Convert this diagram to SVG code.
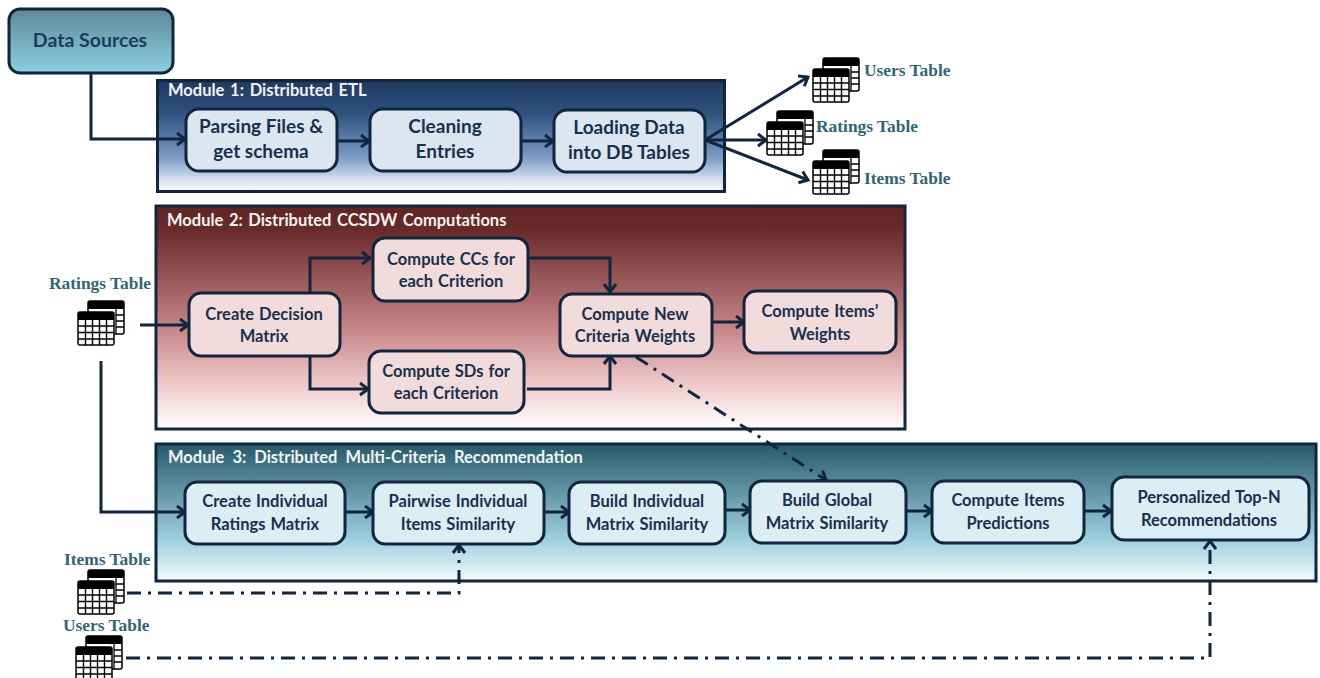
<svg xmlns="http://www.w3.org/2000/svg" width="1320" height="678" viewBox="0 0 1320 678">
<style>
text{font-family:Lato,"Liberation Sans",sans-serif;font-weight:700}
.b{fill:#dce6f1;stroke:#10253f;stroke-width:3}
.r{fill:#f2dcdb;stroke:#10253f;stroke-width:3}
.t{fill:#dbeef4;stroke:#10253f;stroke-width:3}
.m{stroke:#10253f;stroke-width:3}
.l{fill:#17304f;font-size:19px;text-anchor:middle}
.s{font-size:16.500px;word-spacing:1px}
.h{fill:#f4f4f4;font-size:16.500px}
.tl{font-family:"Liberation Serif",serif;fill:#2f6577;font-size:17.400px}
.c{fill:none;stroke:#10253f;stroke-width:3}
.d{stroke-dasharray:14 7 3 7}
</style>
<defs>
<linearGradient id="g0" x1="0" y1="0" x2="0" y2="1"><stop offset="0" stop-color="#5f8a95"/><stop offset="1" stop-color="#8bd0e0"/></linearGradient>
<linearGradient id="g1" x1="0" y1="0" x2="0" y2="1"><stop offset="0" stop-color="#1f3a5f"/><stop offset=".3" stop-color="#2f5280"/><stop offset=".7" stop-color="#7d9cc6"/><stop offset=".88" stop-color="#cfdcec"/><stop offset="1" stop-color="#fbfcfe"/></linearGradient>
<linearGradient id="g2" x1="0" y1="0" x2="0" y2="1"><stop offset="0" stop-color="#632523"/><stop offset=".1" stop-color="#682a28"/><stop offset=".56" stop-color="#c9888a"/><stop offset=".8" stop-color="#eecaca"/><stop offset="1" stop-color="#fff"/></linearGradient>
<linearGradient id="g3" x1="0" y1="0" x2="0" y2="1"><stop offset="0" stop-color="#265a6b"/><stop offset=".7" stop-color="#9fd0de"/><stop offset="1" stop-color="#f4fafc"/></linearGradient>
<marker id="a" markerUnits="userSpaceOnUse" markerWidth="14" markerHeight="16" refX="12" refY="8" orient="auto"><path d="M4 2L12 8L4 14" fill="none" stroke="#10253f" stroke-width="3"/></marker>
<g id="ic">
<rect x="10" y="-11" width="36" height="33" rx="2" fill="#fff" stroke="#000" stroke-width="1.500"/>
<path d="M10-9a2 2 0 0 1 2-2h32a2 2 0 0 1 2 2v6H10z" fill="#000"/>
<path d="M38-3V22M38 3H46M38 9H46M38 15H46" stroke="#000" stroke-width="1.300" fill="none"/>
<rect x="0" y="0" width="36" height="33" rx="2" fill="#fff" stroke="#000" stroke-width="1.500"/>
<path d="M0 2a2 2 0 0 1 2-2h32a2 2 0 0 1 2 2v6H0z" fill="#000"/>
<path d="M7.500 8V33M14.500 8V33M21.500 8V33M28.500 8V33M0 14H36M0 20.500H36M0 27H36" stroke="#000" stroke-width="1.400" fill="none"/>
</g>
</defs>
<rect width="1320" height="678" fill="#fff"/>
<g id="module1"><rect class="m" x="157.500" y="80.500" width="567" height="111" fill="url(#g1)"/><text class="h" x="168" y="96" word-spacing="1.700">Module 1: Distributed ETL</text></g>
<g id="module2"><rect class="m" x="156" y="206" width="749" height="223" fill="url(#g2)"/><text class="h" x="167" y="226" word-spacing="1.500">Module 2: Distributed CCSDW Computations</text></g>
<g id="module3"><rect class="m" x="156" y="444" width="1160" height="137" fill="url(#g3)"/><text class="h" x="168" y="463" word-spacing="4">Module 3: Distributed Multi-Criteria Recommendation</text></g>
<g id="connectors">
<path class="c" d="M91 74V139H185" marker-end="url(#a)"/>
<path class="c" d="M337 141H369" marker-end="url(#a)"/>
<path class="c" d="M521 141H553" marker-end="url(#a)"/>
<path class="c" d="M705 140L808 77" marker-end="url(#a)"/>
<path class="c" d="M705 140H766" marker-end="url(#a)"/>
<path class="c" d="M705 140L808 180" marker-end="url(#a)"/>
<path class="c" d="M140 325H188" marker-end="url(#a)"/>
<path class="c" d="M310 293V258H370" marker-end="url(#a)"/>
<path class="c" d="M310 356V389H368" marker-end="url(#a)"/>
<path class="c" d="M528 258H610V292" marker-end="url(#a)"/>
<path class="c" d="M527 389H610V356" marker-end="url(#a)"/>
<path class="c" d="M712 322H744" marker-end="url(#a)"/>
<path class="c d" d="M636 357L826 480" marker-end="url(#a)"/>
<path class="c" d="M101 361V512H185" marker-end="url(#a)"/>
<path class="c" d="M345 512H373" marker-end="url(#a)"/>
<path class="c" d="M544 512H569" marker-end="url(#a)"/>
<path class="c" d="M725 510H750" marker-end="url(#a)"/>
<path class="c" d="M906 511H932" marker-end="url(#a)"/>
<path class="c" d="M1085 511H1111" marker-end="url(#a)"/>
<path class="c d" d="M127 593H459V545" marker-end="url(#a)"/>
<path class="c d" d="M126 658H1210V541" marker-end="url(#a)"/>
</g>
<g id="data-sources"><rect x="9" y="9" width="164" height="64" rx="11" fill="url(#g0)" stroke="#10253f" stroke-width="3"/><text x="90" y="47" text-anchor="middle" font-size="19.500" fill="#1d3b5e">Data Sources</text></g>
<g id="n1"><rect class="b" x="186" y="109" width="151" height="62" rx="13"/><text class="l" x="261" y="133">Parsing Files &amp;</text><text class="l" x="261" y="158">get schema</text></g>
<g id="n2"><rect class="b" x="370" y="109" width="151" height="62" rx="13"/><text class="l" x="445" y="133">Cleaning</text><text class="l" x="445" y="158">Entries</text></g>
<g id="n3"><rect class="b" x="554" y="110" width="151" height="62" rx="13"/><text class="l" x="629" y="134">Loading Data</text><text class="l" x="629" y="159">into DB Tables</text></g>
<g id="n4"><rect class="r" x="189" y="293" width="151" height="63" rx="12"/><text class="l s" x="264" y="320">Create Decision</text><text class="l s" x="264" y="342">Matrix</text></g>
<g id="n5"><rect class="r" x="373" y="238" width="155" height="63" rx="12"/><text class="l s" x="451" y="265">Compute CCs for</text><text class="l s" x="451" y="287">each Criterion</text></g>
<g id="n6"><rect class="r" x="369" y="351" width="155" height="62" rx="12"/><text class="l s" x="446" y="377">Compute SDs for</text><text class="l s" x="446" y="399">each Criterion</text></g>
<g id="n7"><rect class="r" x="560" y="294" width="152" height="62" rx="12"/><text class="l s" x="635" y="320">Compute New</text><text class="l s" x="635" y="342">Criteria Weights</text></g>
<g id="n8"><rect class="r" x="744" y="291" width="152" height="62" rx="12"/><text class="l s" x="820" y="317">Compute Items’</text><text class="l s" x="820" y="340">Weights</text></g>
<g id="n9"><rect class="t" x="185" y="482" width="160" height="62" rx="12"/><text class="l s" x="265" y="507">Create Individual</text><text class="l s" x="265" y="530">Ratings Matrix</text></g>
<g id="n10"><rect class="t" x="373" y="482" width="171" height="62" rx="12"/><text class="l s" x="458" y="507">Pairwise Individual</text><text class="l s" x="458" y="530">Items Similarity</text></g>
<g id="n11"><rect class="t" x="569" y="482" width="156" height="62" rx="12"/><text class="l s" x="647" y="507">Build Individual</text><text class="l s" x="647" y="530">Matrix Similarity</text></g>
<g id="n12"><rect class="t" x="750" y="481" width="156" height="62" rx="12"/><text class="l s" x="827" y="506">Build Global</text><text class="l s" x="827" y="529">Matrix Similarity</text></g>
<g id="n13"><rect class="t" x="932" y="481" width="152" height="62" rx="12"/><text class="l s" x="1008" y="506" word-spacing="6">Compute Items</text><text class="l s" x="1008" y="529">Predictions</text></g>
<g id="n14"><rect class="t" x="1112" y="477" width="197" height="63" rx="12"/><text class="l s" x="1209" y="503">Personalized Top-N</text><text class="l s" x="1209" y="526">Recommendations</text></g>
<g id="tables">
<use href="#ic" x="813" y="69"/><text class="tl" x="864" y="76">Users Table</text>
<use href="#ic" x="767" y="122"/><text class="tl" x="816" y="132">Ratings Table</text>
<use href="#ic" x="813" y="161"/><text class="tl" x="864" y="184">Items Table</text>
<use href="#ic" x="78" y="312"/><text class="tl" x="49" y="289">Ratings Table</text>
<use href="#ic" x="78" y="581"/><text class="tl" x="64" y="565">Items Table</text>
<use href="#ic" x="76" y="647"/><text class="tl" x="63" y="631">Users Table</text>
</g>
</svg>
